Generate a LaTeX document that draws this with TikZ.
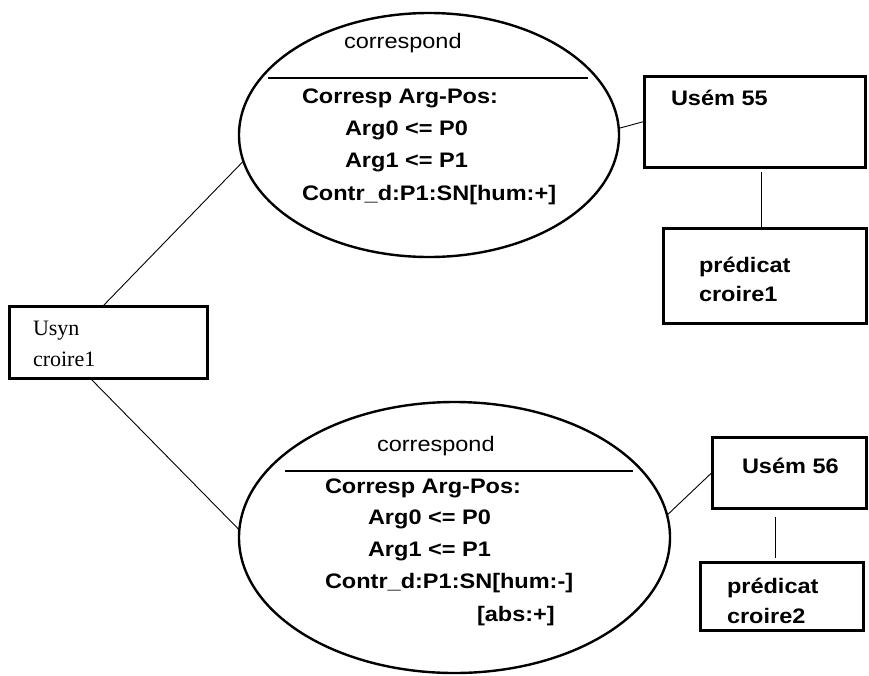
\documentclass[tikz,border=0pt]{standalone}
\usepackage{fontspec}
\setmainfont{Liberation Sans}
\newfontfamily\labelfont[FakeStretch=1.12]{Liberation Sans}
\newfontfamily\usynfont{Liberation Serif}
\usetikzlibrary{shapes.geometric}
\begin{document}
\begin{tikzpicture}[x=1pt,y=-1pt,
  every node/.style={inner sep=0pt, outer sep=0pt},
  oval/.style={draw, ellipse, line width=2.4pt},
  unitbox/.style={draw, rectangle, line width=3pt},
  link/.style={line width=0.9pt},
  bar/.style={line width=2.2pt},
  txt/.style={anchor=base west, font=\labelfont\bfseries\fontsize{21}{24}\selectfont},
  head/.style={anchor=base west, font=\labelfont\fontsize{21}{24}\selectfont},
  serif/.style={anchor=base west, font=\usynfont\fontsize{22}{26}\selectfont},
]
\useasboundingbox (0,0) rectangle (869,675);

% correspondence ellipses
\node[oval, minimum width=380pt, minimum height=244pt] (top) at (429,135) {};
\node[oval, minimum width=431pt, minimum height=271pt] (low) at (454.5,537.5) {};
\draw[bar] (268,78) -- (588,78);
\draw[bar] (285,471) -- (633,471);

% unit boxes
\node[unitbox, minimum width=198pt, minimum height=72pt] (usyn) at (108,342) {};
\node[unitbox, minimum width=221pt, minimum height=91pt] (usem55) at (754.5,121.5) {};
\node[unitbox, minimum width=203pt, minimum height=95pt] (pred1) at (764.5,275.5) {};
\node[unitbox, minimum width=154pt, minimum height=71pt] (usem56) at (789,472.5) {};
\node[unitbox, minimum width=163pt, minimum height=68pt] (pred2) at (781.5,596) {};

% connectors
\draw[link] ([xshift=94pt]usyn.north west) -- (top.188.5);
\draw[link] ([xshift=81pt]usyn.south west) -- (low.178);
\draw[link] (top.2) -- (usem55.west);
\draw[link] (low.6.5) -- (usem56.west);
\draw[link] ([xshift=6.5pt,yshift=-5pt]usem55.south) -- ([xshift=-3.5pt]pred1.north);
\draw[link] ([xshift=-14pt,yshift=-9pt]usem56.south) -- ([xshift=-6.5pt,yshift=4pt]pred2.north);

% texts of the upper ellipse
\node[head] (t0) at (344,48) {correspond};
\node[txt] (t1) at (302,103) {Corresp Arg-Pos:};
\node[txt] (t2) at (345,135) {Arg0 <= P0};
\node[txt] (t3) at (345,167) {Arg1 <= P1};
\node[txt] (t4) at (302,200) {Contr\_d:P1:SN[hum:+]};

% texts of the lower ellipse
\node[head] (b0) at (377,451) {correspond};
\node[txt] (b1) at (325,493) {Corresp Arg-Pos:};
\node[txt] (b2) at (368,524) {Arg0 <= P0};
\node[txt] (b3) at (368,556) {Arg1 <= P1};
\node[txt] (b4) at (325,588) {Contr\_d:P1:SN[hum:-]};
\node[txt] (b5) at (477,621) {[abs:+]};

% texts of the boxes
\node[serif] (s1) at (33,335) {Usyn};
\node[serif] (s2) at (33,366) {croire1};
\node[txt] (u55) at (671,105) {Usém 55};
\node[txt] (u56) at (742,473) {Usém 56};
\node[txt] (p1a) at (699,272) {prédicat};
\node[txt] (p1b) at (699,301) {croire1};
\node[txt] (p2a) at (727,593) {prédicat};
\node[txt] (p2b) at (727,623) {croire2};
\end{tikzpicture}
\end{document}
